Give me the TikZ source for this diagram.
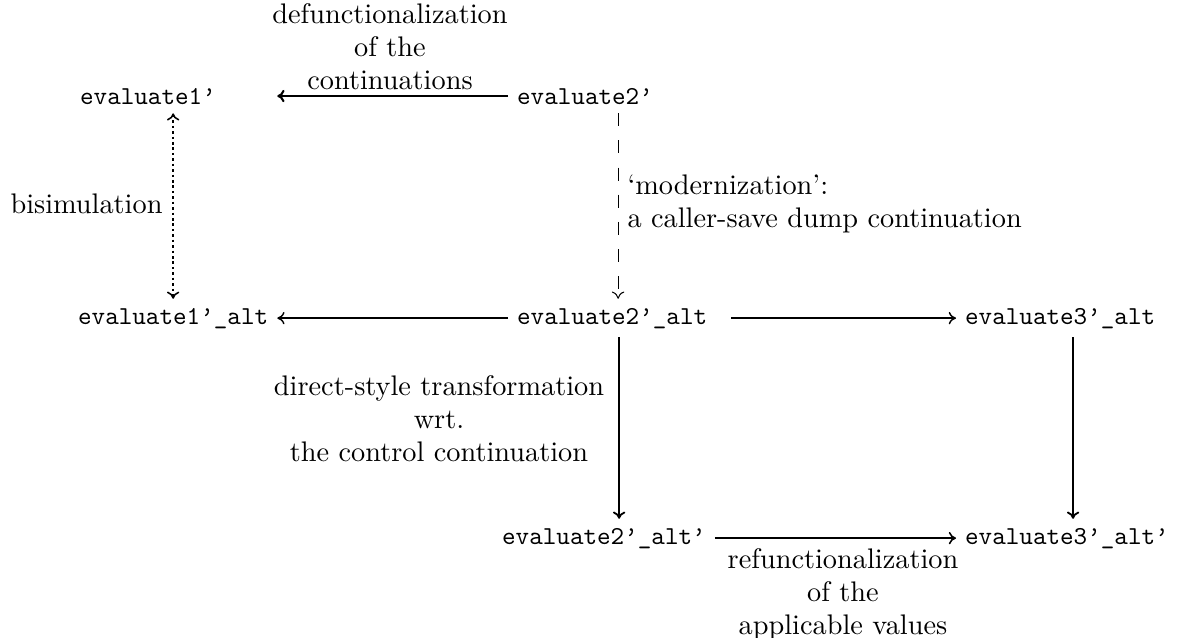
\documentclass[tikz,border=0pt]{standalone}
\usepackage{tikz}
\usetikzlibrary{arrows.meta, calc}

\begin{document}
\begin{tikzpicture}[x=0.3868pt, y=-0.3868pt,
  evalnode/.style={font=\fontsize{10}{12}\selectfont\ttfamily, anchor=base west},
  lbl/.style={font=\fontsize{10.95}{12.7}\selectfont, inner sep=0pt},
  arr/.style={-{To[length=2.8pt,width=4.8pt]}, line width=0.55pt}]
  \useasboundingbox (0,0) rectangle (1181,637);

  % programs, row by row
  \node[evalnode] (e1) at (71,104) {evaluate1’};
  \node[evalnode] (e2) at (508,104) {evaluate2’};
  \node[evalnode] (e1alt) at (69,324) {evaluate1’\_alt};
  \node[evalnode] (e2alt) at (508,324) {evaluate2’\_alt};
  \node[evalnode] (e3alt) at (956,324) {evaluate3’\_alt};
  \node[evalnode] (e2altp) at (493,544) {evaluate2’\_alt’};
  \node[evalnode] (e3altp) at (956,544) {evaluate3’\_alt’};

  % transformations
  \draw[arr, line width=0.8pt] (e2.west) -- (e1alt.east |- e2.west);
  \draw[{To[length=2.8pt,width=4.8pt]}-{To[length=2.8pt,width=4.8pt]}, line width=0.6pt,
    dash pattern=on 1pt off 1.1pt] (e1alt |- e1.south) -- (e1alt.north);
  \draw[arr, line width=0.4pt, dash pattern=on 5pt off 5.5pt]
    ($(e2alt.north |- e2.south)+(2.3pt,0)$) -- ($(e2alt.north)+(2.3pt,0)$);
  \draw[arr] (e2alt.west) -- (e1alt.east);
  \draw[arr, shorten <=5.8pt] (e2alt.east) -- (e3alt.west);
  \draw[arr, line width=0.7pt] ($(e2alt.south)+(2.7pt,0)$) -- ($(e2alt.south |- e2altp.north)+(2.7pt,0)$);
  \draw[arr, line width=0.7pt] ($(e3alt.south)+(5pt,0)$) -- ($(e3alt.south |- e3altp.north)+(5pt,0)$);
  \draw[arr, line width=0.6pt] (e2altp.east) -- (e3altp.west);

  % labels
  \node[lbl, align=center] (defunlbl) at (390,47) {defunctionalization\\of the\\continuations};
  \node[lbl, anchor=east] (bisimlbl) at (163,204) {bisimulation};
  \node[lbl, align=left, anchor=west] (modernlbl) at (627,204) {‘modernization’:\\a caller-save dump continuation};
  \node[lbl, align=center] (dslbl) at (439,419) {direct-style transformation\\wrt.\\the control continuation};
  \node[lbl, align=center] (refunlbl) at (843,594) {refunctionalization\\of the\\applicable values};
\end{tikzpicture}
\end{document}
